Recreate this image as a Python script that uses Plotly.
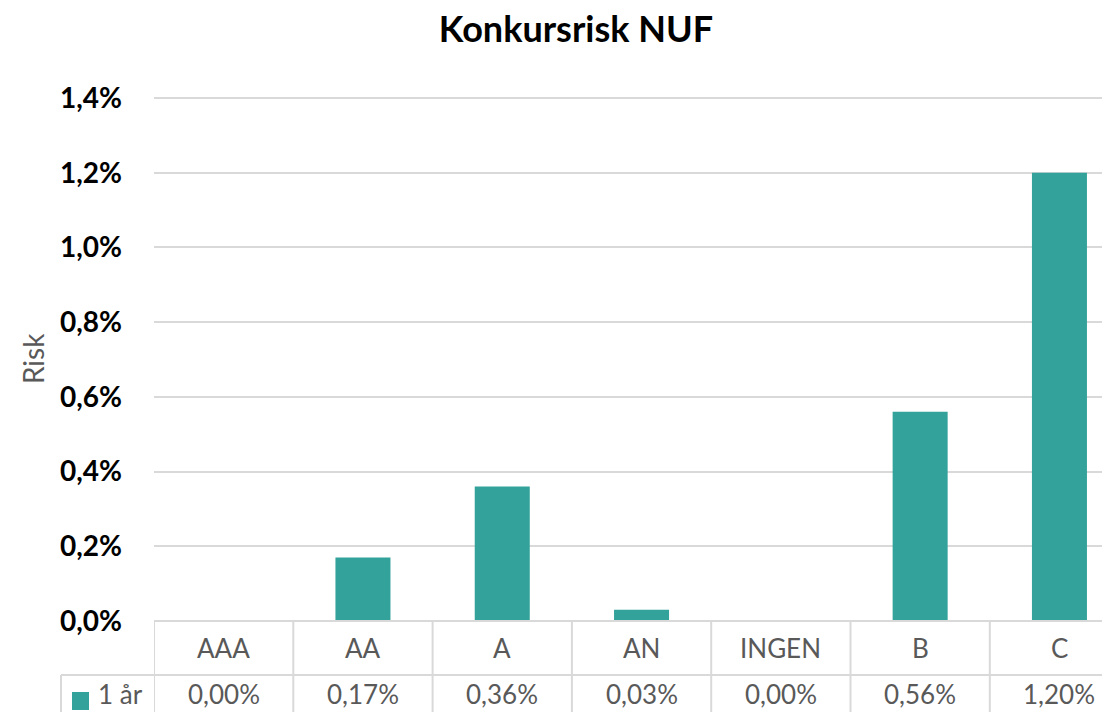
import plotly.graph_objects as go

categories = ["AAA", "AA", "A", "AN", "INGEN", "B", "C"]
risk_1yr = [0.0000, 0.0017, 0.0036, 0.0003, 0.0000, 0.0056, 0.0120]
table_labels = ["0,00%", "0,17%", "0,36%", "0,03%", "0,00%", "0,56%", "1,20%"]
series_name = "1 år"
y_ticks = [0, 0.002, 0.004, 0.006, 0.008, 0.010, 0.012, 0.014]

# page body has an 8px margin: figure is drawn from (8, 8)
OFF = 8
W, H = 1110 - OFF, 712 - OFF
# reference pixel geometry
REF_LEFT, REF_ZERO, REF_TOP14, REF_PLOT_TOP = 154, 621, 98, 94
ML = REF_LEFT - OFF
MR = 0
MT = REF_PLOT_TOP - OFF
MB = H - (REF_ZERO - OFF)
plot_h = H - MT - MB
plot_w = W - ML - MR
px_per_val = (REF_ZERO - REF_TOP14) / 0.014
ytop = 0.014 + (REF_TOP14 - REF_PLOT_TOP) / px_per_val
unit = 139.3  # px per category
xmax = -0.5 + plot_w / unit

BAR = "#33A29A"
GRID = "#D9D9D9"
TXT = "#595959"
FONT = "Lato, Open Sans, sans-serif"


def py(pix):
    return 1 - ((pix - OFF) - MT) / plot_h


def px(pix):
    return ((pix - OFF) - ML) / plot_w


fig = go.Figure()
fig.add_trace(go.Bar(x=list(range(len(categories))), y=risk_1yr, marker_color=BAR,
                     marker_line_width=0, showlegend=False, name=series_name))

shapes = []
ann = []
row1_top, row2_top, row_bottom = 621, 675, 740
for y0, x0 in [(row1_top, REF_LEFT), (row2_top, 61)]:
    shapes.append(dict(type="line", xref="paper", yref="paper",
                       x0=px(x0), x1=1, y0=py(y0), y1=py(y0),
                       line=dict(color=GRID, width=2), layer="above"))
for i in range(len(categories)):
    shapes.append(dict(type="line", xref="x", yref="paper",
                       x0=i - 0.5, x1=i - 0.5, y0=py(row1_top), y1=py(row_bottom),
                       line=dict(color=GRID, width=2)))
shapes.append(dict(type="line", xref="paper", yref="paper",
                   x0=px(61), x1=px(61), y0=py(row2_top), y1=py(row_bottom),
                   line=dict(color=GRID, width=2)))
shapes.append(dict(type="rect", xref="paper", yref="paper",
                   x0=px(72), x1=px(89), y0=py(710), y1=py(692),
                   fillcolor=BAR, line=dict(width=0)))

for i, (c, v) in enumerate(zip(categories, table_labels)):
    ann.append(dict(x=i, y=py(648), xref="x", yref="paper", text=c, showarrow=False,
                    font=dict(size=26, color=TXT, family=FONT), xanchor="center", yanchor="middle"))
    ann.append(dict(x=i, y=py(694), xref="x", yref="paper", text=v, showarrow=False,
                    font=dict(size=26, color=TXT, family=FONT), xanchor="center", yanchor="middle"))
ann.append(dict(x=px(96), y=py(694), xref="paper", yref="paper", text=series_name,
                showarrow=False, font=dict(size=26, color=TXT, family=FONT),
                xanchor="left", yanchor="middle"))
ann.append(dict(x=px(33), y=py(358), xref="paper", yref="paper", text="Risk",
                showarrow=False, textangle=-90, font=dict(size=28, color=TXT, family=FONT),
                xanchor="center", yanchor="middle"))

fig.update_layout(
    width=W, height=H,
    margin=dict(l=ML, r=MR, t=MT, b=MB, pad=0),
    paper_bgcolor="white", plot_bgcolor="white",
    separators=",.",
    bargap=0.605,
    title=dict(text="<b>Konkursrisk NUF</b>", x=(576 - OFF) / W, xanchor="center",
               y=1 - (29 - OFF) / H, yanchor="middle",
               font=dict(size=36, color="black", family=FONT)),
    xaxis=dict(range=[-0.5, xmax], showticklabels=False, showgrid=False,
               zeroline=False, showline=False, ticks=""),
    yaxis=dict(range=[0, ytop], tickvals=y_ticks, tickformat=".1%",
               showgrid=True, gridcolor=GRID, gridwidth=2, zeroline=False,
               showline=False, ticks="", ticklabelstandoff=31,
               tickfont=dict(size=28, color="black", family=FONT, weight="bold")),
    shapes=shapes, annotations=ann,
    font=dict(family=FONT),
)

fig.write_html("out.html")
